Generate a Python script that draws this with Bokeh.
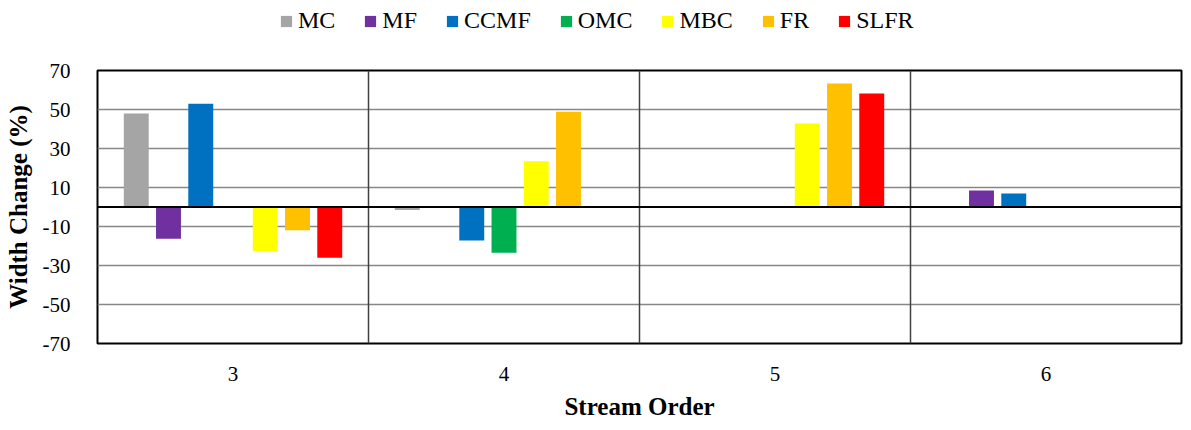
from bokeh.plotting import figure
from bokeh.layouts import column
from bokeh.models import FactorRange, FixedTicker, Span, Legend, LegendItem, ColumnDataSource
from bokeh.transform import dodge
from bokeh.embed import file_html
from bokeh.resources import INLINE

categories = ["3", "4", "5", "6"]
series = ["MC", "MF", "CCMF", "OMC", "MBC", "FR", "SLFR"]
colors = ["#A5A5A5", "#7030A0", "#0070C0", "#00B050", "#FFFF00", "#FFC000", "#FF0000"]

MC = [48.0, -1.5, 0.0, 0.0]
MF = [-16.3, 0.0, 0.0, 8.5]
CCMF = [53.0, -17.2, 0.0, 6.9]
OMC = [0.0, -23.5, 0.0, 0.0]
MBC = [-22.6, 23.5, 42.8, 0.0]
FR = [-11.9, 48.8, 63.3, 0.0]
SLFR = [-26.0, 0.0, 58.2, 0.0]
y_ticks = [-70, -50, -30, -10, 10, 30, 50, 70]
y_tick_labels = {t: str(t) for t in y_ticks}

FONT = "Liberation Serif"
W = 1183

data = {"cat": categories, "MC": MC, "MF": MF, "CCMF": CCMF, "OMC": OMC,
        "MBC": MBC, "FR": FR, "SLFR": SLFR}
src = ColumnDataSource(data)

# ---- legend strip ----
lg = figure(width=W, height=50, x_range=(0, 1), y_range=(0, 1),
            output_backend="svg", toolbar_location=None,
            x_axis_location=None, y_axis_location=None,
            min_border_left=0, min_border_right=0, min_border_top=0, min_border_bottom=0)
lg.grid.grid_line_color = None
lg.outline_line_color = None
items = []
for s, c in zip(series, colors):
    # off-screen proxy bar, only used to supply the legend swatch
    r = lg.vbar(x=[-5], top=[-5], bottom=[-6], width=0.1, fill_color=c, line_color=None)
    items.append(LegendItem(label=s, renderers=[r]))
legend = Legend(items=items, orientation="horizontal", location=(182, 16),
                label_text_font=FONT, label_text_font_size="24px",
                label_text_color="black",
                glyph_width=14, glyph_height=14, label_standoff=5, spacing=28,
                border_line_color=None, background_fill_alpha=0, padding=0, margin=0)
lg.add_layout(legend, "center")

# ---- main chart ----
p = figure(x_range=FactorRange(factors=categories, range_padding=0),
           y_range=(-70, 70), width=W, height=376,
           output_backend="svg", toolbar_location=None,
           min_border_left=97, min_border_right=2, min_border_top=20,
           min_border_bottom=83)

step = 0.119
bw = 0.092
for i, s in enumerate(series):
    p.vbar(x=dodge("cat", (i - 3) * step, range=p.x_range), top=s, bottom=0,
           width=bw, source=src, fill_color=colors[i], line_color=None)

p.xgrid.grid_line_color = None
p.yaxis.ticker = FixedTicker(ticks=y_ticks)
p.yaxis.major_label_overrides = y_tick_labels
p.ygrid.ticker = FixedTicker(ticks=y_ticks)
p.ygrid.grid_line_color = "#878787"
p.ygrid.grid_line_width = 1.6

for b in [1, 2, 3]:
    p.add_layout(Span(location=b, dimension="height", line_color="#404040", line_width=1.5))
p.add_layout(Span(location=0, dimension="width", line_color="black", line_width=1.8))

p.outline_line_color = "black"
p.outline_line_width = 2
p.outline_line_alpha = 1

for ax in (p.xaxis[0], p.yaxis[0]):
    ax.axis_line_color = None
    ax.major_tick_line_color = None
    ax.minor_tick_line_color = None
    ax.major_label_text_font = FONT
    ax.major_label_text_font_size = "21px"
    ax.major_label_text_color = "black"
    ax.axis_label_text_font = FONT
    ax.axis_label_text_font_style = "bold"
    ax.axis_label_text_font_size = "25px"
    ax.axis_label_text_color = "black"

p.xaxis.major_label_standoff = 17
p.xaxis.axis_label = "Stream Order"
p.xaxis.axis_label_standoff = 9
p.yaxis.major_label_standoff = 21
p.yaxis.axis_label = "Width Change (%)"
p.yaxis.axis_label_standoff = 8

layout = column(lg, p, spacing=0)
open("out.html", "w").write(file_html(layout, INLINE))
